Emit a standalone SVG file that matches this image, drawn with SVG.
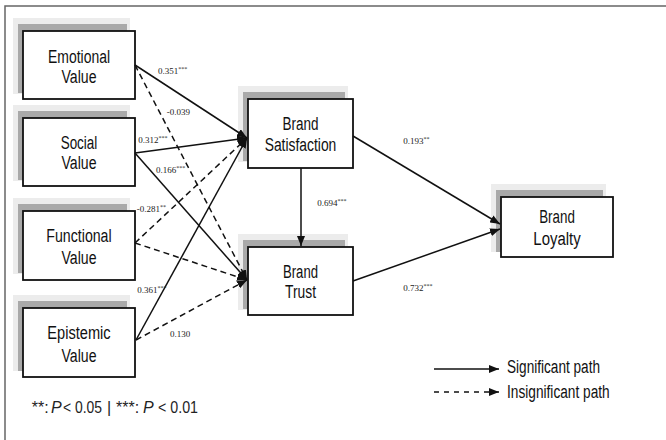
<svg xmlns="http://www.w3.org/2000/svg" width="666" height="440" viewBox="0 0 666 440">
<style>
.frame{fill:none;stroke:#666;stroke-width:1.5}
.sh1{fill:#ececec}
.sh2{fill:#a9a9a9}
.box{fill:#fff;stroke:#111;stroke-width:1.8}
.lbl{font-family:"Liberation Sans",Arial,sans-serif;font-size:18px;fill:#111;text-anchor:middle}
.num{font-family:"Liberation Serif","Times New Roman",serif;font-size:9px;fill:#222}
.sup{font-size:6px}
.ln{fill:none;stroke:#111;stroke-width:1.5}
.dash{stroke-dasharray:6 4}
.leg{font-family:"Liberation Sans",Arial,sans-serif;font-size:18px;fill:#111}
.note{font-family:"Liberation Sans",Arial,sans-serif;font-size:16px;fill:#222}
.it{font-style:italic}
</style>
<defs>
<marker id="ah" viewBox="0 0 10 8" refX="10" refY="4" markerWidth="10" markerHeight="8" markerUnits="userSpaceOnUse" orient="auto">
<path d="M0,0 L10,4 L0,8 z" fill="#111"/>
</marker>
</defs>
<rect class="frame" x="5" y="6" width="672" height="450"/>

<g id="emotional">
<rect class="sh1" x="13" y="18" width="117" height="76"/>
<rect class="sh2" x="18" y="24" width="109" height="69"/>
<rect class="box" x="23" y="31" width="112" height="68"/>
<text class="lbl" x="79" y="62.7" textLength="62" lengthAdjust="spacingAndGlyphs">Emotional</text>
<text class="lbl" x="79" y="83.3" textLength="35" lengthAdjust="spacingAndGlyphs">Value</text>
</g>
<g id="social">
<rect class="sh1" x="13" y="105" width="117" height="76"/>
<rect class="sh2" x="18" y="111" width="109" height="69"/>
<rect class="box" x="23" y="118" width="112" height="68"/>
<text class="lbl" x="79" y="149.3" textLength="36.7" lengthAdjust="spacingAndGlyphs">Social</text>
<text class="lbl" x="79" y="169.3" textLength="35" lengthAdjust="spacingAndGlyphs">Value</text>
</g>
<g id="functional">
<rect class="sh1" x="13" y="198" width="117" height="76"/>
<rect class="sh2" x="18" y="204" width="109" height="69"/>
<rect class="box" x="23" y="211" width="112" height="69"/>
<text class="lbl" x="79" y="242.3" textLength="65.3" lengthAdjust="spacingAndGlyphs">Functional</text>
<text class="lbl" x="79" y="264" textLength="35" lengthAdjust="spacingAndGlyphs">Value</text>
</g>
<g id="epistemic">
<rect class="sh1" x="13" y="295" width="117" height="76"/>
<rect class="sh2" x="18" y="301" width="109" height="70"/>
<rect class="box" x="23" y="308" width="112" height="69"/>
<text class="lbl" x="79" y="339.3" textLength="63.3" lengthAdjust="spacingAndGlyphs">Epistemic</text>
<text class="lbl" x="79" y="361.7" textLength="35" lengthAdjust="spacingAndGlyphs">Value</text>
</g>
<g id="satisfaction">
<rect class="sh1" x="238" y="86" width="110" height="76"/>
<rect class="sh2" x="243" y="92" width="102" height="69"/>
<rect class="box" x="248" y="99" width="105" height="69"/>
<text class="lbl" x="300.5" y="130" textLength="36" lengthAdjust="spacingAndGlyphs">Brand</text>
<text class="lbl" x="300.5" y="151" textLength="71.7" lengthAdjust="spacingAndGlyphs">Satisfaction</text>
</g>
<g id="trust">
<rect class="sh1" x="238" y="234" width="110" height="76"/>
<rect class="sh2" x="243" y="240" width="102" height="69"/>
<rect class="box" x="248" y="247" width="105" height="68"/>
<text class="lbl" x="300.5" y="278.3" textLength="35" lengthAdjust="spacingAndGlyphs">Brand</text>
<text class="lbl" x="300.5" y="298.3" textLength="31" lengthAdjust="spacingAndGlyphs">Trust</text>
</g>
<g id="loyalty">
<rect class="sh1" x="491" y="184" width="115" height="68"/>
<rect class="sh2" x="496" y="190" width="107" height="62"/>
<rect class="box" x="501" y="197" width="112" height="60"/>
<text class="lbl" x="557" y="223.3" textLength="35.7" lengthAdjust="spacingAndGlyphs">Brand</text>
<text class="lbl" x="557" y="245" textLength="47.3" lengthAdjust="spacingAndGlyphs">Loyalty</text>
</g>

<g id="connectors">
<line class="ln" x1="135" y1="65" x2="247" y2="138" marker-end="url(#ah)"/>
<line class="ln dash" x1="135" y1="65" x2="247" y2="280" marker-end="url(#ah)"/>
<line class="ln" x1="135" y1="153" x2="247" y2="138" marker-end="url(#ah)"/>
<line class="ln" x1="135" y1="153" x2="247" y2="280" marker-end="url(#ah)"/>
<line class="ln dash" x1="135" y1="243" x2="247" y2="138" marker-end="url(#ah)"/>
<line class="ln dash" x1="135" y1="243" x2="247" y2="280" marker-end="url(#ah)"/>
<line class="ln" x1="136" y1="340" x2="247" y2="138" marker-end="url(#ah)"/>
<line class="ln dash" x1="136" y1="340" x2="247" y2="280" marker-end="url(#ah)"/>
<line class="ln" x1="301" y1="168" x2="301" y2="246" marker-end="url(#ah)"/>
<line class="ln" x1="353" y1="136" x2="500" y2="224" marker-end="url(#ah)"/>
<line class="ln" x1="353" y1="281" x2="500" y2="229" marker-end="url(#ah)"/>
</g>

<g id="path-labels">
<text class="num" x="158" y="73.5">0.351<tspan class="sup" dy="-3">***</tspan></text>
<text class="num" x="166.7" y="115">-0.039</text>
<text class="num" x="138.3" y="143.3">0.312<tspan class="sup" dy="-3">***</tspan></text>
<text class="num" x="156" y="173.3">0.166<tspan class="sup" dy="-3">***</tspan></text>
<text class="num" x="136.7" y="211.7">-0.281<tspan class="sup" dy="-3">**</tspan></text>
<text class="num" x="137.3" y="293.3">0.361<tspan class="sup" dy="-3">***</tspan></text>
<text class="num" x="170" y="336.7">0.130</text>
<text class="num" x="403.3" y="144">0.193<tspan class="sup" dy="-3">**</tspan></text>
<text class="num" x="317.3" y="206">0.694<tspan class="sup" dy="-3">***</tspan></text>
<text class="num" x="403.3" y="290.7">0.732<tspan class="sup" dy="-3">***</tspan></text>
</g>

<g id="legend">
<line class="ln" x1="434" y1="369" x2="499" y2="369" marker-end="url(#ah)"/>
<line class="ln" x1="434" y1="392" x2="499" y2="392" stroke-dasharray="5 5" marker-end="url(#ah)"/>
<text class="leg" x="507" y="372.7" textLength="93" lengthAdjust="spacingAndGlyphs">Significant path</text>
<text class="leg" x="507" y="397.5" textLength="102.7" lengthAdjust="spacingAndGlyphs">Insignificant path</text>
</g>

<g id="note">
<text class="note" x="31.7" y="413.3">**:</text>
<text class="note it" x="51" y="413.3">P</text>
<text class="note" x="63" y="413.3" textLength="39" lengthAdjust="spacingAndGlyphs">&lt; 0.05</text>
<text class="note" x="107" y="413.3">|</text>
<text class="note" x="116" y="413.3">***:</text>
<text class="note it" x="143" y="413.3">P</text>
<text class="note" x="158" y="413.3" textLength="40" lengthAdjust="spacingAndGlyphs">&lt; 0.01</text>
</g>
</svg>
